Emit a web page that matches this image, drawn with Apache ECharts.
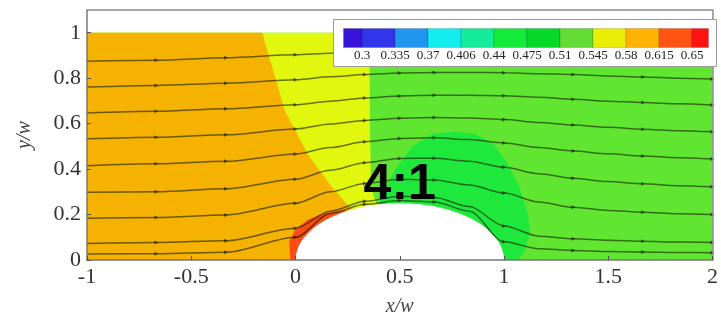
<!DOCTYPE html>
<html>
<head>
<meta charset="utf-8">
<script src="https://cdn.jsdelivr.net/npm/echarts@6/dist/echarts.min.js"></script>
<style>
  html, body { margin: 0; padding: 0; background: #fff; }
  #chart { width: 721px; height: 322px; }
</style>
</head>
<body>
<div id="chart"></div>
<script>
// Streamline sample abscissae (x/w) and heights (y/w) of each streamline
const streamX = [-1, -0.667, -0.333, 0, 0.167, 0.333, 0.5, 0.667, 0.833, 1, 1.167, 1.333, 1.5, 1.667, 1.833, 2];
const line1 = [0.875, 0.879, 0.890, 0.903, 0.910, 0.918, 0.922, 0.922, 0.920, 0.917, 0.913, 0.909, 0.906, 0.903, 0.900, 0.898];
const line2 = [0.761, 0.768, 0.778, 0.793, 0.806, 0.816, 0.823, 0.825, 0.825, 0.824, 0.820, 0.816, 0.810, 0.805, 0.800, 0.796];
const line3 = [0.647, 0.654, 0.665, 0.683, 0.699, 0.713, 0.722, 0.725, 0.725, 0.723, 0.716, 0.707, 0.699, 0.693, 0.687, 0.682];
const line4 = [0.533, 0.540, 0.551, 0.576, 0.598, 0.614, 0.624, 0.627, 0.625, 0.618, 0.605, 0.594, 0.584, 0.575, 0.569, 0.564];
const line5 = [0.415, 0.423, 0.434, 0.466, 0.495, 0.520, 0.535, 0.538, 0.530, 0.515, 0.495, 0.480, 0.467, 0.458, 0.450, 0.444];
const line6 = [0.298, 0.300, 0.313, 0.355, 0.395, 0.428, 0.447, 0.448, 0.435, 0.408, 0.380, 0.360, 0.345, 0.335, 0.327, 0.322];
const line7 = [0.184, 0.187, 0.198, 0.250, 0.300, 0.337, 0.355, 0.352, 0.330, 0.295, 0.255, 0.232, 0.218, 0.210, 0.204, 0.200];
const line8 = [0.073, 0.077, 0.085, 0.140, 0.215, 0.258, 0.280, 0.275, 0.235, 0.150, 0.105, 0.094, 0.087, 0.082, 0.079, 0.077];
const line9 = [0.026, 0.028, 0.034, 0.100, 0.205, 0.245, 0.262, 0.255, 0.215, 0.080, 0.050, 0.042, 0.037, 0.035, 0.033, 0.032];
const streamlines = [line1, line2, line3, line4, line5, line6, line7, line8, line9];

// Contour bands of the velocity field, as [x/w, y/w] outlines
const baseZone   = [[-1, 0], [2, 0], [2, 1], [-1, 1]];                       // 0.51 - 0.545
const yellowZone = [[-1, 0], [0.40, 0], [0.39, 0.245], [0.362, 0.32], [0.357, 0.6], [0.355, 1], [-1, 1]]; // 0.545 - 0.58
const orangeZone = [[-1, 0], [0.30, 0], [0.28, 0.22], [0.245, 0.248], [0.175, 0.32], [0.063, 0.46], [-0.05, 0.654], [-0.16, 1], [-1, 1]]; // 0.58 - 0.615
const coreZone   = [[0.40, 0], [0.40, 0.25], [0.42, 0.30], [0.48, 0.40], [0.56, 0.50], [0.66, 0.555], [0.76, 0.565], [0.86, 0.555],
                    [0.95, 0.51], [1.02, 0.42], [1.07, 0.33], [1.115, 0.20], [1.125, 0.12], [1.10, 0.04], [1.065, 0]]; // 0.475 - 0.51
const redZone    = [[-0.025, 0], [-0.03, 0.08], [0.0, 0.135], [0.06, 0.178], [0.13, 0.203], [0.2, 0.216], [0.24, 0.22], [0.24, 0]]; // 0.615 - 0.65
const zones = [baseZone, yellowZone, orangeZone, coreZone, redZone];
const zoneColors = ['#60e631', '#e2f70e', '#f6b200', '#1fe83d', '#ff4c14'];

// Bump (semi-ellipse, 4:1)
const bumpStart = 0, bumpWidth = 1, bumpHeight = 0.25;
const bumpLabel = '4:1';

// Colour scale
const scaleLabels = ['0.3', '0.335', '0.37', '0.406', '0.44', '0.475', '0.51', '0.545', '0.58', '0.615', '0.65'];
const scaleColors = ['#3814d8', '#3236ea', '#2196ee', '#14ecee', '#14ec9a', '#14ea3a', '#05d826', '#62dc34', '#eaee05', '#ffb200', '#ff5414', '#ff1212'];

const chart = echarts.init(document.getElementById('chart'), null, { renderer: 'canvas' });

const serif = 'Liberation Serif';

// colour-bar graphic
const barLeft = 10, barTop = 9, barH = 19, firstW = 18.5, stepW = 33, lastW = 16.5;
const legendChildren = [{
  type: 'rect', z: 30, shape: { x: 0, y: 0, width: 383, height: 47 },
  style: { fill: '#fff', stroke: '#9a9a9a', lineWidth: 1 }
}];
let cx = barLeft;
scaleColors.forEach((c, i) => {
  const w = i === 0 ? firstW : (i === scaleColors.length - 1 ? lastW : stepW);
  legendChildren.push({ type: 'rect', z: 31, shape: { x: cx, y: barTop, width: w, height: barH },
    style: { fill: c, stroke: 'rgba(0,0,0,0.25)', lineWidth: 0.6 } });
  cx += w;
});
scaleLabels.forEach((t, i) => {
  legendChildren.push({ type: 'text', z: 31, x: barLeft + firstW + i * stepW, y: 36,
    style: { text: t, font: '13px ' + serif, fill: '#222', align: 'center', verticalAlign: 'middle' } });
});

const streamSeries = streamlines.map((ys, k) => ({
  type: 'line',
  name: 'stream' + (k + 1),
  data: streamX.map((x, i) => [x, ys[i]]),
  smooth: 0.3,
  smoothMonotone: 'x',
  symbol: 'triangle',
  symbolRotate: -90,
  symbolSize: (v, p) => ((p.dataIndex === 0 || p.dataIndex === 4 || p.dataIndex === 8 || p.dataIndex === 10 || p.dataIndex === 12 || p.dataIndex === 14) ? 0 : 4),
  showSymbol: true,
  itemStyle: { color: 'rgba(20,30,0,0.65)' },
  lineStyle: { color: 'rgba(20,30,0,0.6)', width: 1.5 },
  z: 4,
  silent: true,
  animation: false
}));

const frameAxis = { show: true, onZero: false, lineStyle: { color: '#888', width: 1.5 } };

const option = {
  animation: false,
  grid: { left: 87, right: 5, top: 10, bottom: 54, show: false },
  xAxis: [{
    type: 'value', min: -1, max: 2, interval: 0.5, z: 6,
    axisLine: { show: true, onZero: false, lineStyle: { color: '#777', width: 1.5 } },
    axisTick: { show: true, inside: true, length: 4, lineStyle: { color: '#555' } },
    axisLabel: { fontFamily: serif, fontSize: 22, color: '#333', margin: 6 },
    splitLine: { show: false },
    name: 'x/w', nameLocation: 'middle', nameGap: 37,
    nameTextStyle: { fontFamily: serif, fontStyle: 'italic', fontSize: 20, color: '#444' }
  }, {
    type: 'value', position: 'top', min: -1, max: 2, z: 6,
    axisLine: frameAxis,
    axisTick: { show: false }, axisLabel: { show: false }, splitLine: { show: false }
  }],
  yAxis: [{
    type: 'value', min: 0, max: 1.1, interval: 0.2, z: 6,
    axisLine: { show: true, onZero: false, lineStyle: { color: '#777', width: 1.5 } },
    axisTick: { show: true, inside: true, length: 4, lineStyle: { color: '#555' } },
    axisLabel: { fontFamily: serif, fontSize: 22, color: '#333', margin: 6, showMaxLabel: false },
    splitLine: { show: false },
    name: 'y/w', nameLocation: 'middle', nameGap: 52,
    nameTextStyle: { fontFamily: serif, fontStyle: 'italic', fontSize: 20, color: '#444' }
  }, {
    type: 'value', position: 'right', min: 0, max: 1.1, z: 6,
    axisLine: frameAxis,
    axisTick: { show: false }, axisLabel: { show: false }, splitLine: { show: false }
  }],
  series: [{
    type: 'custom',
    name: 'field',
    data: zones.map((z, i) => i),
    z: 1,
    silent: true,
    renderItem: (params, api) => {
      const zone = zones[params.dataIndex];
      return {
        type: 'polygon',
        shape: { points: zone.map(p => api.coord(p)) },
        style: { fill: zoneColors[params.dataIndex], stroke: null }
      };
    }
  }, {
    type: 'custom',
    name: 'bump',
    data: [0],
    z: 2,
    silent: true,
    renderItem: (params, api) => {
      const p0 = api.coord([bumpStart, 0]);
      const p1 = api.coord([bumpStart + bumpWidth, 0]);
      const top = api.coord([bumpStart + bumpWidth / 2, bumpHeight]);
      const rx = (p1[0] - p0[0]) / 2, ry = p0[1] - top[1];
      return {
        type: 'path',
        shape: { pathData: `M${p0[0]} ${p0[1] + 1} L${p0[0]} ${p0[1]} A${rx} ${ry} 0 0 1 ${p1[0]} ${p1[1]} L${p1[0]} ${p1[1] + 1} Z` },
        style: { fill: '#ffffff', stroke: null }
      };
    }
  }].concat(streamSeries),
  graphic: [{ type: 'group', left: 333, top: 19, z: 30, children: legendChildren }]
};

chart.setOption(option);

// aspect-ratio tag above the bump, anchored in data space
const tagPos = chart.convertToPixel({ gridIndex: 0 }, [bumpStart + bumpWidth / 2, bumpHeight + 0.08]);
chart.setOption({
  graphic: [{ type: 'group', left: 333, top: 19, z: 30, children: legendChildren }, {
    type: 'text', z: 40, x: tagPos[0], y: tagPos[1],
    style: { text: bumpLabel, font: 'bold 50px "Liberation Sans"', fill: '#000', align: 'center', verticalAlign: 'middle' }
  }]
});
</script>
</body>
</html>
